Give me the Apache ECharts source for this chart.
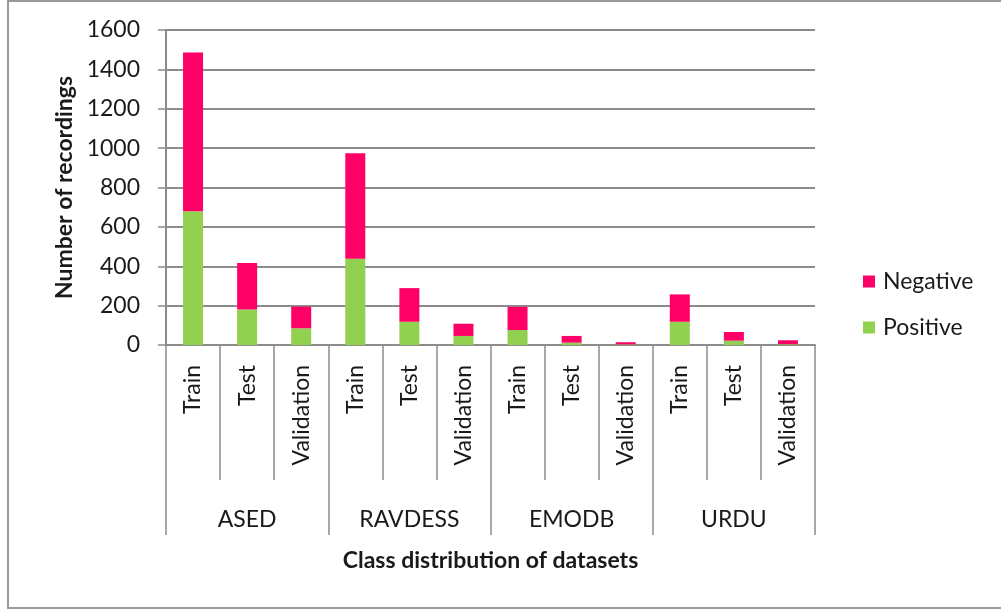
<!DOCTYPE html>
<html>
<head>
<meta charset="utf-8">
<script src="https://cdn.jsdelivr.net/npm/echarts@6/dist/echarts.min.js"></script>
<style>
  html, body { margin: 0; padding: 0; background: #fff; }
  #chart { width: 1001px; height: 611px; }
</style>
</head>
<body>
<div id="chart"></div>
<script>
// data
var splits = ['Train', 'Test', 'Validation', 'Train', 'Test', 'Validation',
              'Train', 'Test', 'Validation', 'Train', 'Test', 'Validation'];
var datasets = ['ASED', 'RAVDESS', 'EMODB', 'URDU'];
var positive = [680, 180, 85, 438, 118, 46, 76, 12, 3, 118, 22, 4];
var negative = [806, 237, 110, 536, 171, 62, 118, 34, 11, 139, 44, 20];
var yTicks = [0, 200, 400, 600, 800, 1000, 1200, 1400, 1600];

var font = 'Lato';
var ink = '#1a1a1a';
var gray = '#8c8c8c';

var chart = echarts.init(document.getElementById('chart'));

var option = {
  backgroundColor: '#fff',
  animation: false,
  textStyle: { fontFamily: font },
  grid: { left: 166, right: 186, top: 30, bottom: 266 },
  graphic: [{
    type: 'rect',
    shape: { x: 8, y: 1, width: 1000, height: 607 },
    style: { fill: 'none', stroke: '#9a9a9a', lineWidth: 2 },
    z: -1
  }],
  legend: {
    orient: 'vertical',
    left: 858,
    top: 265,
    itemWidth: 12,
    itemHeight: 12,
    itemGap: 23,
    icon: 'rect',
    data: ['Negative', 'Positive'],
    textStyle: { fontFamily: font, fontSize: 23, color: ink, padding: [0, 0, 0, 3] }
  },
  xAxis: [{
    type: 'category',
    data: splits,
    position: 'bottom',
    axisLine: { show: true, lineStyle: { color: gray, width: 2 } },
    axisTick: { show: true, length: 135, interval: 0, lineStyle: { color: gray, width: 1.5 } },
    axisLabel: { rotate: 90, margin: 20, interval: 0, fontFamily: font, fontSize: 23, color: ink },
    splitLine: { show: false }
  }, {
    type: 'category',
    data: datasets,
    position: 'bottom',
    axisLine: { show: false },
    axisTick: { show: true, length: 190, interval: 0, lineStyle: { color: gray, width: 1.5 } },
    axisLabel: { margin: 163, interval: 0, fontFamily: font, fontSize: 23, color: ink },
    name: 'Class distribution of datasets',
    nameLocation: 'middle',
    nameGap: 204,
    nameTextStyle: { fontFamily: font, fontSize: 23, fontWeight: 'bold', color: ink }
  }],
  yAxis: {
    type: 'value',
    min: yTicks[0],
    max: yTicks[yTicks.length - 1],
    interval: yTicks[1] - yTicks[0],
    name: 'Number of recordings',
    nameLocation: 'middle',
    nameGap: 89,
    nameTextStyle: { fontFamily: font, fontSize: 23, fontWeight: 'bold', color: ink },
    axisLine: { show: true, lineStyle: { color: gray, width: 2 } },
    axisTick: { show: true, length: 8, lineStyle: { color: gray, width: 1.5 } },
    axisLabel: {
      margin: 26, fontFamily: font, fontSize: 23, color: ink,
      formatter: function (v) { return String(v); }
    },
    splitLine: { show: true, lineStyle: { color: gray, width: 2 } }
  },
  series: [{
    name: 'Positive',
    type: 'bar',
    stack: 'total',
    barWidth: 20,
    data: positive,
    itemStyle: { color: '#92d050' }
  }, {
    name: 'Negative',
    type: 'bar',
    stack: 'total',
    barWidth: 20,
    data: negative,
    itemStyle: { color: '#ff0066' }
  }]
};

chart.setOption(option);
</script>
</body>
</html>
